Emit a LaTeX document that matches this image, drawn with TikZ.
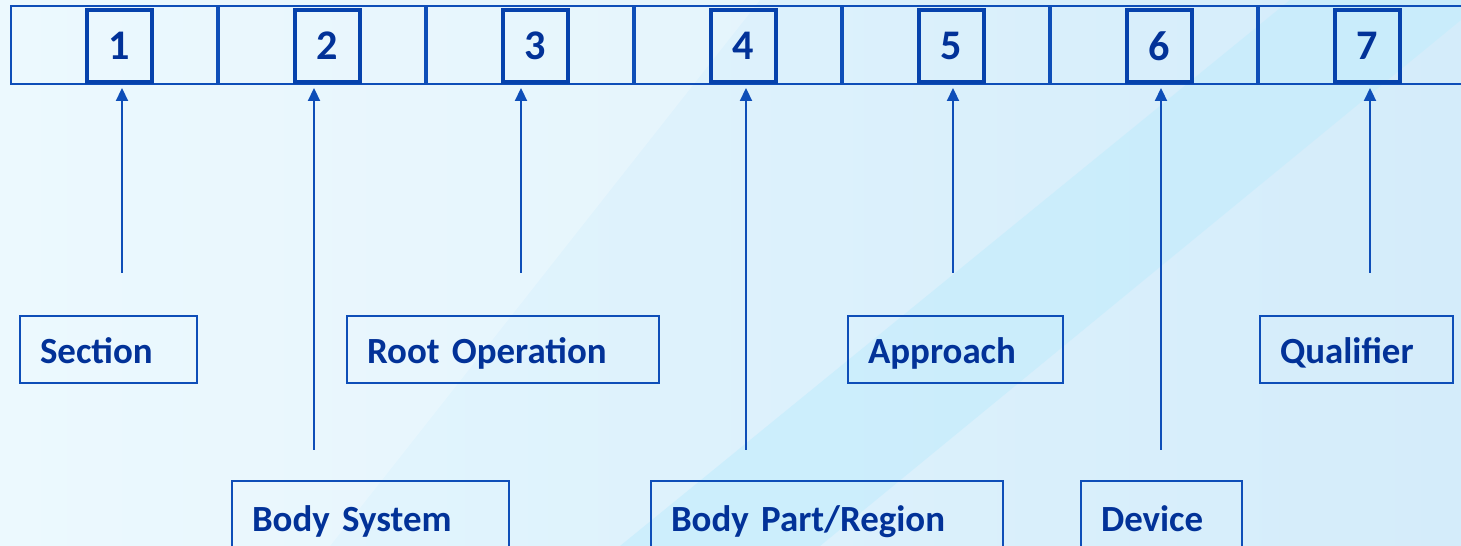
\documentclass[tikz,border=0pt]{standalone}
\usepackage{fontspec}
\setmainfont{Carlito}[WordSpace=0.8]
\usetikzlibrary{arrows.meta}
\definecolor{lineblue}{RGB}{14,78,184}
\definecolor{boxblue}{RGB}{6,66,172}
\definecolor{textblue}{RGB}{2,50,152}
\definecolor{bgleft}{RGB}{230,247,254}
\definecolor{bgright}{RGB}{212,236,250}
\definecolor{bgband}{RGB}{194,236,252}

\begin{document}
\begin{tikzpicture}[x=0.02cm,y=-0.02cm,
  cell/.style={draw=lineblue,line width=1.6pt,minimum width=4.12cm,minimum height=1.56cm,inner sep=0pt,outer sep=0pt},
  digit/.style={draw=boxblue,line width=2pt,minimum width=1.3cm,minimum height=1.44cm,inner sep=0pt,
    text=textblue,font=\fontsize{24}{28}\selectfont\bfseries},
  label/.style={draw=lineblue,line width=1.5pt,align=left,inner xsep=0.4cm,inner ysep=0pt,
    text height=0.6cm,text depth=0.02cm,text=textblue,font=\fontsize{21}{25}\selectfont\bfseries},
  toplabel/.style={label,minimum height=1.34cm},
  botlabel/.style={label,minimum height=1.44cm},
  arr/.style={draw=lineblue,line width=1.2pt,shorten >=0.08cm,-{Triangle[length=0.26cm,width=0.24cm]}}]

% background
\useasboundingbox (0,0) rectangle (1461,546);
\shade[left color=bgleft,right color=bgright] (0,0) rectangle (1461,546);
\fill[bgband,opacity=0.6] (620,546) -- (820,546) -- (1461,20) -- (1461,0) -- (1290,0) -- cycle;
\fill[white,opacity=0.25] (0,546) -- (330,546) -- (760,0) -- (0,0) -- cycle;
\clip (0,0) rectangle (1461,546);

% code cells
\node[cell] (c1) at (114,45) {};
\node[cell] (c2) at (322,45) {};
\node[cell] (c3) at (530,45) {};
\node[cell] (c4) at (738,45) {};
\node[cell] (c5) at (946,45) {};
\node[cell] (c6) at (1154,45) {};
\node[cell] (c7) at (1362,45) {};
\node[digit] (d1) at (119.5,46) {1};
\node[digit] (d2) at (327.5,46) {2};
\node[digit] (d3) at (535.5,46) {3};
\node[digit] (d4) at (743.5,46) {4};
\node[digit] (d5) at (951.5,46) {5};
\node[digit] (d6) at (1159.5,46) {6};
\node[digit] (d7) at (1367.5,46) {7};

% labels
\node[toplabel,text width=2.74cm] (section) at (108.5,349.5) {Section};
\node[toplabel,text width=5.44cm] (rootop) at (503,349.5) {Root Operation};
\node[toplabel,text width=3.5cm] (approach) at (955.5,349.5) {Approach};
\node[toplabel,text width=3.06cm] (qualifier) at (1356.5,349.5) {Qualifier};
\node[botlabel,text width=4.74cm] (bodysys) at (370.5,517) {Body System};
\node[botlabel,text width=6.24cm] (bodypart) at (827,517) {Body Part/Region};
\node[botlabel,text width=2.42cm] (device) at (1161.5,517) {Device};

% pointers
\coordinate (t1) at (122,273);
\coordinate (t2) at (314,450);
\coordinate (t3) at (521,273);
\coordinate (t4) at (746,450);
\coordinate (t5) at (953,273);
\coordinate (t6) at (1161,450);
\coordinate (t7) at (1370,273);
\draw[arr] (t1) -- (t1 |- c1.south);
\draw[arr] (t2) -- (t2 |- c2.south);
\draw[arr] (t3) -- (t3 |- c3.south);
\draw[arr] (t4) -- (t4 |- c4.south);
\draw[arr] (t5) -- (t5 |- c5.south);
\draw[arr] (t6) -- (t6 |- c6.south);
\draw[arr] (t7) -- (t7 |- c7.south);
\end{tikzpicture}
\end{document}
